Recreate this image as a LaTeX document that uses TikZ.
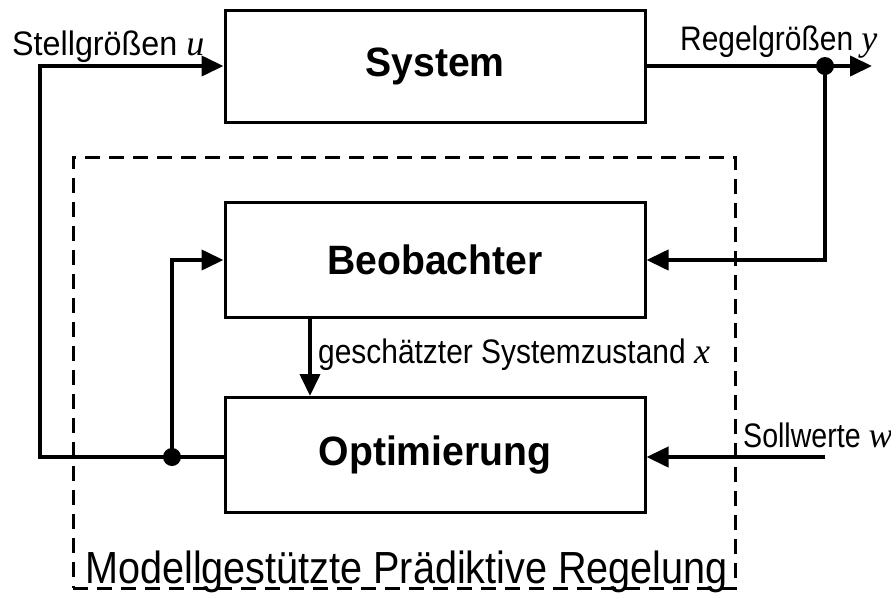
\documentclass[tikz,border=0pt]{standalone}
\usepackage{fontspec}
\setmainfont{Liberation Sans}
\newfontfamily\narrowfont[FakeStretch=0.88]{Liberation Sans}
\newfontfamily\stellfont[FakeStretch=0.95]{Liberation Sans}
\newfontfamily\sollfont[FakeStretch=0.84]{Liberation Sans}
\newfontfamily\blockfont[FakeStretch=0.955]{Liberation Sans Bold}
\newfontfamily\varfont{Liberation Serif}
\usetikzlibrary{arrows.meta}
\tikzset{
  block/.style={draw, line width=3pt, minimum width=420pt, inner sep=0pt, font=\blockfont\fontsize{41}{48}\selectfont},
  conn/.style={line width=4pt},
  tip/.style={-{Triangle[length=22pt,width=20pt]}},
  lbl/.style={anchor=base west, inner sep=0pt, font=\narrowfont\fontsize{34}{40}\selectfont},
  dot/.style={circle, fill, inner sep=0pt, minimum size=18pt},
  framebox/.style={draw, line width=3pt, dash pattern=on 15pt off 9pt, inner sep=0pt}
}
\newcommand{\var}[1]{{\varfont\itshape\fontsize{36}{40}\selectfont #1}}
\begin{document}
\begin{tikzpicture}[x=1pt,y=-1pt]
\useasboundingbox (0,0) rectangle (891,592);
\node[framebox, minimum width=662pt, minimum height=431pt] (mpc) at (404,372.5) {};
\node[block, minimum height=112pt] (sys) at (435,66) {System};
\node[block, minimum height=115pt] (beo) at (435,260) {Beobachter};
\node[block, minimum height=115pt] (opt) at (435,455) {Optimierung};
\coordinate (L) at (40,457);
\node[dot] (dotL) at (172,457) {};
\node[dot] (dotR) at (825,66) {};
\coordinate (outR) at (872,66);
\coordinate (sw) at (825,457);
\coordinate (bx) at (310,0);
\draw[conn, tip] (opt.west |- L) -- (L) |- (sys.west);
\draw[conn, tip] (dotL.center) |- (beo.west);
\draw[conn, tip] (sys.east) -- (outR);
\draw[conn, tip] (dotR.center) |- (beo.east);
\draw[conn, tip] (sw) -- (opt.east |- sw);
\draw[conn, tip] (beo.south -| bx) -- (opt.north -| bx);
\node[lbl, font=\stellfont\fontsize{34}{40}\selectfont] (lu) at (12,55) {Stellgrößen \var{u}};
\node[lbl] (ly) at (680,50) {Regelgrößen \var{y}};
\node[lbl] (lx) at (318,363) {geschätzter Systemzustand \var{x}};
\node[lbl, font=\sollfont\fontsize{34}{40}\selectfont] (lw) at (743,447) {Sollwerte \var{w}};
\node[lbl, font=\narrowfont\fontsize{45}{50}\selectfont] (lm) at (85,583) {Modellgestützte Prädiktive Regelung};
\end{tikzpicture}
\end{document}
